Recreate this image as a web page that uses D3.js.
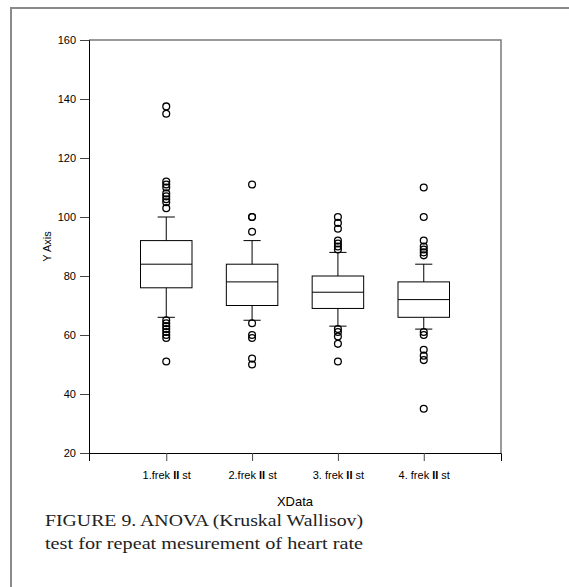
<!DOCTYPE html>
<html>
<head>
<meta charset="utf-8">
<script src="https://cdn.jsdelivr.net/npm/d3@7"></script>
<style>
  body { margin: 0; background: #fff; }
  svg { display: block; }
  .tick text { font-family: "Liberation Sans", Arial, sans-serif; font-size: 11px; fill: #000; }
</style>
</head>
<body>
<svg id="chart" width="569" height="587"></svg>
<script>
// category labels are split so the "II" can be drawn bold as in the figure
const categories = [['1.frek ', 'II', ' st'], ['2.frek ', 'II', ' st'], ['3. frek ', 'II', ' st'], ['4. frek ', 'II', ' st']]
const q1 = [76, 70, 69, 66]
const median = [84, 78, 74.5, 72]
const q3 = [92, 84, 80, 78]
const whiskerLow = [66, 65, 63, 62]
const whiskerHigh = [100, 92, 88, 84]
const outliers = [
  [137.5, 135, 112, 111, 110, 108, 107, 106, 105, 103, 65, 64, 63, 62, 61, 60, 59, 51],
  [111, 100, 100, 95, 64, 60, 59, 52, 50],
  [100, 98, 96, 92, 91, 90, 89, 62, 61, 59.5, 57, 51],
  [110, 100, 92, 90, 89, 88, 87, 61, 60, 55, 53, 51.5, 35]
]
const yTicks = [20, 40, 60, 80, 100, 120, 140, 160]

const svg = d3.select('#chart')

const plot = { left: 89, right: 501, top: 40, bottom: 453 }

const x = d3.scaleLinear().domain([0.1, 4.9]).range([plot.left, plot.right])
const y = d3.scaleLinear().domain([20, 160]).range([plot.bottom, plot.top])

const boxW = 0.6,
    capW = 0.2

// outer figure frame
svg.append('rect')
    .attr('x', 11).attr('y', 8)
    .attr('width', 600).attr('height', 620)
    .attr('fill', 'none')
    .attr('stroke', '#8a8a8a')
    .attr('stroke-width', 2)

// top + right frame of the plot (grey)
svg.append('path')
    .attr('d', `M${plot.left},${plot.top}H${plot.right}V${plot.bottom}`)
    .attr('fill', 'none')
    .attr('stroke', '#7a7a7a')
    .attr('stroke-width', 1.5)

// axes
const yAxis = svg.append('g')
    .attr('transform', `translate(${plot.left},0)`)
    .call(d3.axisLeft(y).tickValues(yTicks).tickSize(9).tickPadding(4))
yAxis.select('.domain').attr('stroke', '#000')

const xAxis = svg.append('g')
    .attr('transform', `translate(0,${plot.bottom})`)
    .call(d3.axisBottom(x).tickValues([1, 2, 3, 4]).tickSize(8).tickPadding(10)
      .tickFormat(''))
xAxis.select('.domain').attr('stroke', '#000')
xAxis.selectAll('.tick line').attr('stroke', '#444')
yAxis.selectAll('.tick line').attr('stroke', '#444')

xAxis.selectAll('.tick text')
    .each(function(d, i) {
      const t = d3.select(this)
      categories[i].forEach((part, j) => {
        t.append('tspan')
            .style('font-weight', j == 1 ? 'bold' : 'normal')
            .text(part)
      })
    })

// boxes
const boxes = svg.append('g')
    .selectAll('g.box')
    .data(categories.map((c, i) => ({ i: i + 1, q1: q1[i], med: median[i], q3: q3[i], lo: whiskerLow[i], hi: whiskerHigh[i], out: outliers[i] })))
    .enter().append('g')
    .attr('class', 'box')
    .attr('stroke', '#000')
    .attr('fill', 'none')

boxes.append('line')
    .attr('x1', d => x(d.i)).attr('x2', d => x(d.i))
    .attr('y1', d => y(d.q3)).attr('y2', d => y(d.hi))
boxes.append('line')
    .attr('x1', d => x(d.i)).attr('x2', d => x(d.i))
    .attr('y1', d => y(d.q1)).attr('y2', d => y(d.lo))
boxes.append('line')
    .attr('x1', d => x(d.i - capW / 2)).attr('x2', d => x(d.i + capW / 2))
    .attr('y1', d => y(d.hi)).attr('y2', d => y(d.hi))
boxes.append('line')
    .attr('x1', d => x(d.i - capW / 2)).attr('x2', d => x(d.i + capW / 2))
    .attr('y1', d => y(d.lo)).attr('y2', d => y(d.lo))
boxes.append('rect')
    .attr('x', d => x(d.i - boxW / 2))
    .attr('width', d => x(d.i + boxW / 2) - x(d.i - boxW / 2))
    .attr('y', d => y(d.q3))
    .attr('height', d => y(d.q1) - y(d.q3))
boxes.append('line')
    .attr('x1', d => x(d.i - boxW / 2)).attr('x2', d => x(d.i + boxW / 2))
    .attr('y1', d => y(d.med)).attr('y2', d => y(d.med))

boxes.selectAll('circle')
    .data(d => d.out.map(v => ({ i: d.i, v })))
    .enter().append('circle')
    .attr('cx', d => x(d.i))
    .attr('cy', d => y(d.v))
    .attr('r', 3.4)
    .attr('stroke-width', 1.3)

// axis titles
svg.append('text')
    .attr('transform', `translate(51,${(plot.top + plot.bottom) / 2}) rotate(-90)`)
    .attr('text-anchor', 'middle')
    .style('font-family', '"Liberation Sans", Arial, sans-serif')
    .style('font-size', '11px')
    .text('Y Axis')

svg.append('text')
    .attr('x', (plot.left + plot.right) / 2)
    .attr('y', 506)
    .attr('text-anchor', 'middle')
    .style('font-family', '"Liberation Sans", Arial, sans-serif')
    .style('font-size', '13px')
    .text('XData')

// caption
const caption = ['FIGURE 9. ANOVA (Kruskal Wallisov)', 'test for repeat mesurement of heart rate']
svg.selectAll('text.caption')
    .data(caption)
    .enter().append('text')
    .attr('class', 'caption')
    .attr('x', 45)
    .attr('y', (d, i) => 526 + i * 23)
    .attr('textLength', 318)
    .attr('lengthAdjust', 'spacingAndGlyphs')
    .style('font-family', '"Liberation Serif", "DejaVu Serif", serif')
    .style('font-size', '17px')
    .style('fill', '#222')
    .text(d => d)
</script>
</body>
</html>
